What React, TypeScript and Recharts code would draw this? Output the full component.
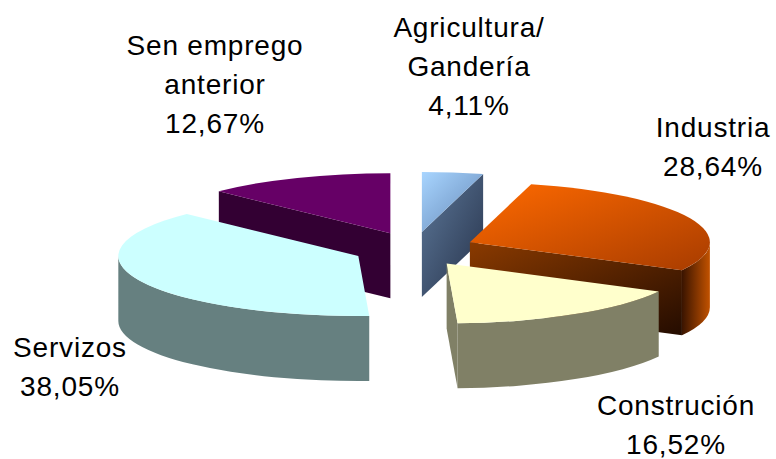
import React from "react";
import { PieChart, Pie } from "recharts";

// shares of the unemployed by previous sector (%)
const categories = ["Agricultura/\nGandería", "Industria", "Construción", "Servizos", "Sen emprego\nanterior"];
const shares = [4.11, 28.64, 16.52, 38.05, 12.67];

const data = categories.map((name, i) => ({ name, value: shares[i] }));

// [from, to] gradient stops for each part of every slice
const topColors = [["#a8d5ff", "#6487b6"], ["#ff6a00", "#a83c00"], ["#ffffcc", "#ffffcc"], ["#ccffff", "#ccffff"], ["#660066", "#660066"]];
const faceColors = [["#5d7899", "#26324a"], ["#8a3a00", "#240c00"], ["#808066", "#808066"], ["#668080", "#668080"], ["#330033", "#330033"]];
const wallColors = [["#4a6282", "#2a3850"], ["#3a1400", "#c25200"], ["#808066", "#808066"], ["#668080", "#668080"], ["#330033", "#330033"]];

// label anchor (centre x, first baseline)
const labelSpots = [[469, 37], [713, 137], [676, 415], [70, 357], [215, 55]];

const RAD = Math.PI / 180;
const Y_SCALE = 0.25;
const DEPTH = 65;
const EXPLODE = 61;
const EXPLODE_Y = 0.28;
const FONT = '"Liberation Sans", Arial, sans-serif';

const sliceIndex = (props: any) => {
  const name = props.payload?.name ?? props.name;
  const i = categories.indexOf(name);
  return i >= 0 ? i : props.index ?? 0;
};

const Grad = ({ id, c, diag }: { id: string; c: string[]; diag?: boolean }) => (
  <linearGradient id={id} x1="0" y1="0" x2="1" y2={diag ? "1" : "0"}>
    <stop offset="0%" stopColor={c[0]} />
    <stop offset="100%" stopColor={c[1]} />
  </linearGradient>
);

const makeShape = (layer: "walls" | "tops") => (props: any) => {
  const { cx, cy, outerRadius, startAngle, endAngle } = props;
  const mid = props.midAngle ?? (startAngle + endAngle) / 2;
  const idx = sliceIndex(props);
  const rx = outerRadius;
  const ry = outerRadius * Y_SCALE;
  const ox = cx + EXPLODE * Math.cos(mid * RAD);
  const oy = cy - EXPLODE * EXPLODE_Y * Math.sin(mid * RAD);
  const P = (a: number, dz = 0) => `${ox + rx * Math.cos(a * RAD)},${oy - ry * Math.sin(a * RAD) + dz}`;
  const hi = Math.max(startAngle, endAngle);
  const lo = Math.min(startAngle, endAngle);
  const id = `${layer}-${idx}`;

  if (layer === "tops") {
    const large = hi - lo > 180 ? 1 : 0;
    return (
      <g>
        <defs><Grad id={`${id}-top`} c={topColors[idx]} diag /></defs>
        <path d={`M${ox},${oy} L${P(hi)} A${rx},${ry} 0 ${large} 1 ${P(lo)} Z`} fill={`url(#${id}-top)`} />
      </g>
    );
  }

  const parts: React.ReactNode[] = [];
  const face = (a: number, key: string) => (
    <path key={key} d={`M${ox},${oy} L${P(a)} L${P(a, DEPTH)} L${ox},${oy + DEPTH} Z`} fill={`url(#${id}-face)`} />
  );
  if (Math.cos(hi * RAD) < -0.001) parts.push(face(hi, "fh"));
  if (Math.cos(lo * RAD) > 0.001) parts.push(face(lo, "fl"));
  [-1, 0, 1].forEach((k) => {
    const a = Math.max(lo, -180 + 360 * k);
    const b = Math.min(hi, 360 * k);
    if (b - a > 0.01) {
      parts.push(
        <path
          key={`w${k}`}
          d={`M${P(b)} A${rx},${ry} 0 0 1 ${P(a)} L${P(a, DEPTH)} A${rx},${ry} 0 0 0 ${P(b, DEPTH)} Z`}
          fill={`url(#${id}-wall)`}
        />
      );
    }
  });
  return (
    <g>
      <defs>
        <Grad id={`${id}-face`} c={faceColors[idx]} diag />
        <Grad id={`${id}-wall`} c={wallColors[idx]} />
      </defs>
      {parts}
    </g>
  );
};

const renderLabel = (props: any) => {
  const idx = sliceIndex(props);
  const [x, y] = labelSpots[idx];
  const lines = [...categories[idx].split("\n"), `${shares[idx].toFixed(2).replace(".", ",")}%`];
  return (
    <text x={x} y={y} textAnchor="middle" fontFamily={FONT} fontSize={28} letterSpacing={0.8} fill="#000">
      {lines.map((l, j) => (
        <tspan key={j} x={x} dy={j === 0 ? 0 : 39}>{l}</tspan>
      ))}
    </text>
  );
};

const wallShape = makeShape("walls");
const topShape = makeShape("tops");

const App: React.FC = () => (
  <div style={{ position: "absolute", left: 0, top: 0, width: 776, height: 459, background: "#fff", overflow: "hidden" }}>
    <PieChart width={776} height={459} margin={{ top: 0, right: 0, bottom: 0, left: 0 }} style={{ overflow: "visible" }}>
      <Pie
        data={data}
        dataKey="value"
        nameKey="name"
        cx={414}
        cy={249}
        outerRadius={240}
        startAngle={90}
        endAngle={-270}
        stroke="none"
        isAnimationActive={false}
        {...({ shape: wallShape, activeShape: wallShape, inactiveShape: wallShape } as any)}
      />
      <Pie
        data={data}
        dataKey="value"
        nameKey="name"
        cx={414}
        cy={249}
        outerRadius={240}
        startAngle={90}
        endAngle={-270}
        stroke="none"
        isAnimationActive={false}
        label={renderLabel}
        labelLine={false}
        {...({ shape: topShape, activeShape: topShape, inactiveShape: topShape } as any)}
      />
    </PieChart>
  </div>
);

export default App;
